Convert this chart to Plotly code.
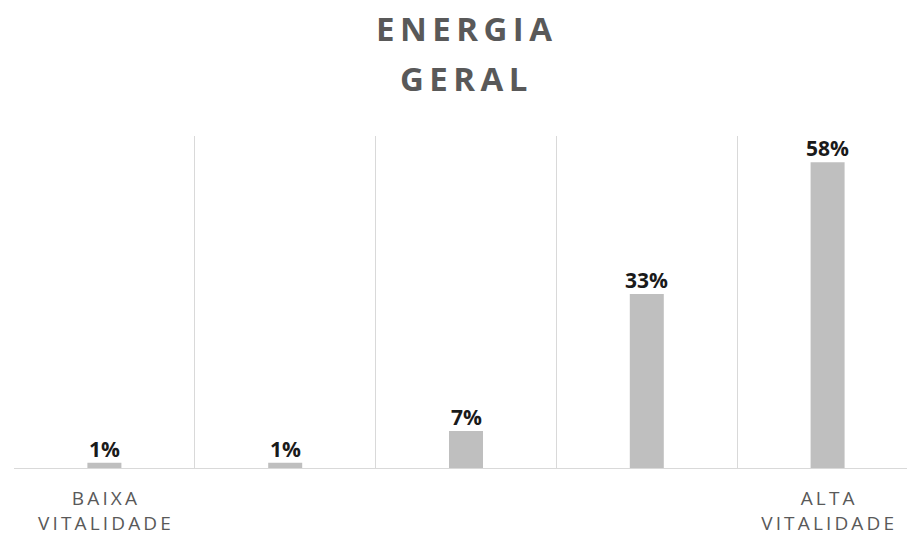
import plotly.graph_objects as go

categories = ["BAIXA VITALIDADE", "", "", "", "ALTA VITALIDADE"]
values = [1, 1, 7, 33, 58]
value_labels = ["1%", "1%", "7%", "33%", "58%"]
title_lines = ["ENERGIA", "GERAL"]

TS = "\u2009"  # thin space used as letter spacing


def spaced(s, sep=TS):
    return sep.join(list(s))


def tick_text(label):
    if not label:
        return ""
    words = label.split(" ")
    return "<br>".join(spaced(w) for w in words)


xs = list(range(len(categories)))

W, H = 907, 536
ML, MR, MT, MB = 14, 0, 136, 63
plot_w = W - ML - MR
plot_h = H - MT - MB
cat_px = 180.8

fig = go.Figure()
fig.add_trace(go.Bar(
    x=xs,
    y=values,
    width=0.188,
    marker=dict(color="#bfbfbf", line=dict(width=0)),
    hoverinfo="skip",
))

anns = []
# value labels above bars, placed at the data coordinates
for xv, yv, lab in zip(xs, values, value_labels):
    anns.append(dict(
        text="<b>" + lab + "</b>",
        x=xv, y=yv, xref="x", yref="y",
        xanchor="center", yanchor="bottom", yshift=-2,
        showarrow=False,
        font=dict(family="Open Sans", size=21, color="#1a1a1a"),
    ))

for line, cy in zip(title_lines, [27, 78]):
    anns.append(dict(
        text="<b>" + spaced(line) + "</b>",
        x=(464 - ML) / plot_w, xref="paper",
        y=(H - MB - cy) / plot_h, yref="paper",
        xanchor="center", yanchor="middle",
        showarrow=False,
        font=dict(family="Open Sans", size=33, color="#595959"),
    ))

fig.update_layout(
    width=W,
    height=H,
    margin=dict(l=ML, r=MR, t=MT, b=MB),
    paper_bgcolor="white",
    plot_bgcolor="white",
    showlegend=False,
    xaxis=dict(
        range=[-0.5, -0.5 + plot_w / cat_px],
        tickmode="array",
        tickvals=xs,
        ticktext=[tick_text(c) for c in categories],
        tickfont=dict(family="Open Sans", size=19, color="#595959"),
        ticks="outside",
        ticklen=13,
        tickcolor="rgba(0,0,0,0)",
        showgrid=False,
        showline=True,
        linecolor="#d9d9d9",
        linewidth=1,
        zeroline=False,
        minor=dict(tickmode="linear", tick0=-0.5, dtick=1, showgrid=True,
                   gridcolor="#d9d9d9", gridwidth=1, ticks=""),
        fixedrange=True,
    ),
    yaxis=dict(
        range=[0, 63],
        showgrid=False,
        showticklabels=False,
        zeroline=False,
        showline=False,
        ticks="",
        fixedrange=True,
    ),
    annotations=anns,
)

fig.write_html(
    "out.html",
    config={"displayModeBar": False},
    post_script="document.body.style.margin='0';",
)
